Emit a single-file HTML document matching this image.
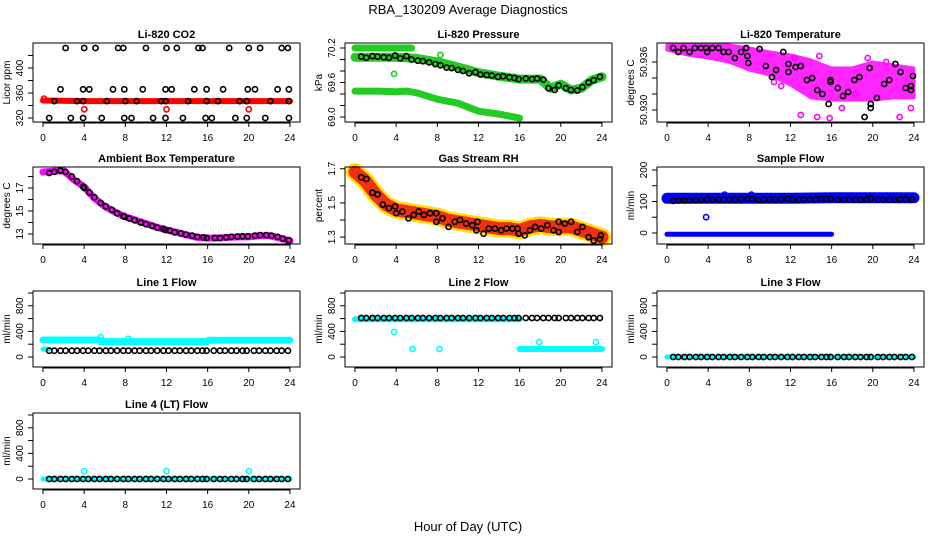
<!DOCTYPE html>
<html><head><meta charset="utf-8"><title>RBA_130209 Average Diagnostics</title>
<style>
html,body{margin:0;padding:0;background:#fff;}
svg{display:block;font-family:"Liberation Sans",Arial,sans-serif;}
</style></head>
<body>
<svg id="chart" width="936" height="540" viewBox="0 0 936 540" xmlns="http://www.w3.org/2000/svg">
<rect x="0" y="0" width="936" height="540" fill="#fff"/>
<text x="468" y="14" text-anchor="middle" font-size="13">RBA_130209  Average Diagnostics</text>
<text x="468" y="531" text-anchor="middle" font-size="13">Hour of Day (UTC)</text>
</svg>
<script>
// ---------- data ----------
const X_TICKS = [0, 4, 8, 12, 16, 20, 24];

// Li-820 CO2
const co2BlackHours = [2.2,4,5.1,7.3,7.8,10,12,13,15.1,15.5,18.1,20,21.1,23.2,23.8, 1.7,3.9,4.5,6.8,7.9,9.7,11.9,12.5,14.7,15.9,17.5,19.9,20.6,22.8,23.9, 1.1,3.3,3.9,6.2,8,9.1,11.5,11.9,14.1,15.9,17,19.1,19.8,22.1,23.9, 0.6,2.7,3.9,5.7,7.9,8.6,10.7,11.9,13.6,15.8,16.4,18.7,19.8,21.6,23.9];
const co2BlackValues = [432,432,432,432,432,432,432,432,432,432,432,432,432,432,432, 366,366,366,366,366,366,366,366,366,366,366,366,366,366,366, 347,347,347,347,347,347,347,347,347,347,347,347,347,347,347, 320,320,320,320,320,320,320,320,320,320,320,320,320,320,320];
const co2BandHours = [0,4,8,12,16,20,24];
const co2BandValues = [348,347,347,347,347,347,347];
const co2RedHours = [0.1,4,12,20];
const co2RedValues = [351,334,334,334];

// Li-820 Pressure
const presBandHours = [0,2,4,6,8,10,12,14,16,18,19,20,21,22,23,24];
const presBandValues = [70.04,70.04,70.04,70.02,69.96,69.87,69.77,69.71,69.66,69.66,69.5,69.57,69.47,69.5,69.64,69.7];
const presTopHours = [0,5.5];
const presTopValues = [70.2,70.2];
const presLowHours = [0,2,4,5,6,8,10,12,14,16];
const presLowValues = [69.45,69.45,69.44,69.45,69.42,69.31,69.24,69.1,69.05,68.98];
const presGreenHours = [3.8,8.3];
const presGreenValues = [69.75,70.08];
const presBlackHours = [0.6,1.1,1.7,2.2,2.8,3.3,3.9,4.4,5,5.5,6.1,6.6,7.2,7.8,8.3,8.9,9.4,10,10.5,11.1,11.7,12.2,12.8,13.3,13.9,14.4,15,15.5,15.9,16.6,17.2,17.7,18.3,18.8,19.4,19.8,20.5,21,21.6,22.1,22.7,23.2,23.8];
const presBlackValues = [70.05,70.03,70.06,70.05,70.04,70.03,70.07,70.02,70.06,70.0,69.98,69.97,69.95,69.92,69.9,69.86,69.85,69.82,69.8,69.76,69.78,69.74,69.73,69.72,69.7,69.71,69.69,69.68,69.66,69.67,69.66,69.67,69.65,69.5,69.47,69.55,69.5,69.47,69.46,69.52,69.6,69.64,69.7];

// Li-820 Temperature
const ltHours = [0,2,4,6,8,10,12,14,16,18,20,22,24];
const ltUpper = [50.93813,50.93813,50.93813,50.93813,50.93775,50.93725,50.93688,50.93625,50.93525,50.93525,50.936,50.93563,50.93525];
const ltLower = [50.9375,50.93688,50.9365,50.936,50.935,50.93438,50.93313,50.9315,50.93125,50.93125,50.93125,50.9315,50.9315];
const ltMagHours = [13,14.6,15.8,22.6,17,23.7,11.1,14.8,19.5,21.3,10.4,12.4,18.3];
const ltMagValues = [50.92938,50.92913,50.929,50.92913,50.93025,50.93025,50.933,50.93675,50.9365,50.936,50.9335,50.9365,50.932];
const ltBlackHours = [0.6,1.1,1.6,2.2,2.7,3.3,3.8,3.9,4.4,5,5.5,6,6.6,7.2,7.7,7.8,7.9,9,9.6,10.2,10.6,11.3,11.8,11.8,12.5,13,13.6,14.1,14.6,15.1,15.7,15.9,15.9,16.6,17.1,17.6,18.2,18.7,19.2,19.7,19.8,19.8,20.4,21.1,21.6,22.2,22.7,23.2,23.7,23.7,23.9];
const ltBlackValues = [50.93775,50.93725,50.93775,50.93725,50.93775,50.93775,50.93775,50.93725,50.93775,50.93775,50.93725,50.93725,50.9365,50.93725,50.93775,50.93675,50.93588,50.93763,50.9355,50.93413,50.935,50.93725,50.93575,50.93475,50.93538,50.9355,50.93375,50.934,50.9325,50.932,50.93075,50.93375,50.9335,50.93275,50.93175,50.93225,50.93375,50.93413,50.92913,50.93525,50.93075,50.93025,50.9315,50.93325,50.93375,50.93575,50.93475,50.93275,50.933,50.9325,50.93425];

// Ambient Box Temperature
const ambHours = [0,1,2,3,4,5,6,7,8,9,10,11,12,13,14,15,16,17,18,19,20,21,22,23,24];
const ambBand = [18.39,18.45,18.5,17.7,17.1,16.1,15.4,14.9,14.5,14.2,13.9,13.6,13.35,13.15,12.9,12.7,12.65,12.65,12.7,12.75,12.75,12.85,12.85,12.65,12.4];
const ambBlackHours = [0.6,1.1,1.7,2.2,2.8,3.3,3.9,4.0,4.5,5.0,5.6,6.1,6.7,7.2,7.8,7.9,8.4,8.9,9.5,10,10.6,11.1,11.7,11.9,12.3,12.8,13.4,13.9,14.5,15,15.6,15.9,16.7,17.2,17.8,18.3,18.9,19.4,19.9,20.6,21.1,21.7,22.2,22.8,23.3,23.9];
const ambBlackValues = [18.3,18.4,18.5,18.4,18.0,17.6,17.1,17.0,16.6,16.2,15.7,15.4,15.1,14.8,14.55,14.5,14.35,14.2,14.0,13.85,13.7,13.55,13.45,13.35,13.3,13.15,13.05,12.95,12.85,12.75,12.7,12.65,12.65,12.65,12.7,12.75,12.78,12.8,12.8,12.85,12.9,12.9,12.85,12.75,12.6,12.45];

// Gas Stream RH
const rhHours = [0,1,2,3,4,5,6,7,8,9,10,11,12,13,14,15,16,17,18,19,20,21,22,23,24];
const rhBand = [1.68,1.63,1.55,1.49,1.46,1.45,1.44,1.43,1.42,1.40,1.39,1.38,1.37,1.36,1.35,1.35,1.34,1.36,1.37,1.36,1.36,1.36,1.34,1.32,1.30];
const rhBlackHours = [0.6,1.1,1.7,2.2,2.7,3.3,3.9,4.0,4.6,5.2,5.7,6.2,6.7,7.3,7.9,7.9,8.5,9.1,9.7,10.2,10.8,11.4,11.9,11.8,12.5,13,13.6,14.2,14.7,15.3,15.8,15.9,16.5,17,17.5,18.1,18.7,19.3,19.8,19.8,20.4,21,21.6,22.1,22.7,23.2,23.8,23.9];
const rhBlackValues = [1.65,1.64,1.56,1.55,1.49,1.47,1.48,1.44,1.45,1.41,1.43,1.45,1.43,1.44,1.44,1.39,1.41,1.36,1.39,1.40,1.38,1.37,1.39,1.34,1.32,1.35,1.35,1.34,1.35,1.35,1.35,1.32,1.31,1.34,1.36,1.35,1.37,1.34,1.39,1.33,1.38,1.39,1.33,1.36,1.30,1.28,1.29,1.31];

// Sample Flow
const sfBandHours = [0,4,8,12,16,20,24];
const sfBandValues = [110,110,110,110,112,112,112];
const sfZeroHours = [0,16];
const sfZeroValues = [-4,-4];
const sfBlueHours = [3.8,5.6,8.2];
const sfBlueValues = [50,122,122];
const flowHours = [0.6,1.1,1.7,2.2,2.8,3.3,3.9,4.4,5,5.5,6.1,6.6,7.2,7.8,8.3,8.9,9.4,10,10.5,11.1,11.7,12.2,12.8,13.3,13.9,14.4,15,15.5,15.9,16.6,17.2,17.7,18.3,18.8,19.4,19.8,20.5,21,21.6,22.1,22.7,23.2,23.8];
const sfBlackValues = [102,103,103,104,104,105,107,105,106,106,106,106,107,108,108,105,106,106,106,107,109,106,106,107,107,107,108,108,108,106,106,106,106,106,107,109,106,106,106,106,107,107,107];

// Line 1 Flow
const l1CyanHours = [0,5.5,5.6,16,16.1,24];
const l1CyanValues = [265,265,240,240,262,262];
const l1CyanLowHours = [0,0.5];
const l1CyanLowValues = [120,120];
const l1OutHours = [5.6,8.3];
const l1OutValues = [310,285];
const l1BlackValues = [98,98,98,98,98,98,98,98,98,98,98,98,98,98,98,98,98,98,98,98,98,98,98,98,98,98,98,98,98,98,98,98,98,98,98,98,98,98,98,98,98,98,98];

// Line 2 Flow
const l2CyanHours = [0,16];
const l2CyanValues = [590,590];
const l2CyanLowHours = [16,24];
const l2CyanLowValues = [125,125];
const l2OutHours = [3.8,5.6,8.2,17.9,23.4];
const l2OutValues = [390,125,125,235,235];
const l2BlackValues = [610,610,610,610,610,610,610,610,610,610,610,610,610,610,610,610,610,610,610,610,610,610,610,610,610,610,610,610,610,610,610,610,610,610,610,610,610,610,610,610,610,610,610];

// Line 3 Flow
const l3CyanHours = [0,24];
const l3CyanValues = [0,0];
const l3BlackValues = [0,0,0,0,0,0,0,0,0,0,0,0,0,0,0,0,0,0,0,0,0,0,0,0,0,0,0,0,0,0,0,0,0,0,0,0,0,0,0,0,0,0,0];

// Line 4 (LT) Flow
const l4CyanHours = [0,24];
const l4CyanValues = [0,0];
const l4OutHours = [4,12,20];
const l4OutValues = [123,123,123];
const l4BlackValues = [0,0,0,0,0,0,0,0,0,0,0,0,0,0,0,0,0,0,0,0,0,0,0,0,0,0,0,0,0,0,0,0,0,0,0,0,0,0,0,0,0,0,0];

// tick definitions
const co2Ticks = [320,340,360,380,400,420]; const co2Labels = ["320","360","400"];
const presTicks = [69.0,69.2,69.4,69.6,69.8,70.0,70.2]; const presLabels = ["69.0","69.6","70.2"];
const ltTicks = [50.930,50.932,50.934,50.936]; const ltLabels = ["50.930","50.936"];
const ambTicks = [13,14,15,16,17,18]; const ambLabels = ["13","15","17"];
const rhTicks = [1.3,1.4,1.5,1.6,1.7]; const rhLabels = ["1.3","1.5","1.7"];
const sfTicks = [0,50,100,150,200]; const sfLabels = ["0","100","200"];
const lfTicks = [0,200,400,600,800,1000]; const lfLabels = ["0","400","800"];

// ---------- rendering ----------
const NS = "http://www.w3.org/2000/svg";
const svg = document.getElementById("chart");
const COLS = [33, 345, 657];
const ROWS = [[43,122],[167,244],[291,367],[413,489]];
const BOXW = 267;

function el(tag, attrs, parent) {
  const e = document.createElementNS(NS, tag);
  for (const k in attrs) e.setAttribute(k, attrs[k]);
  (parent || svg).appendChild(e);
  return e;
}

function makePanel(name, col, row, title, ylab, ylo, yhi, ticks, labels) {
  const left = COLS[col], top = ROWS[row][0], bottom = ROWS[row][1], right = left + BOXW;
  const g = el("g", {});
  
  
  const xs = h => left + 10 + h * 10.29;
  const ys = v => bottom - (v - ylo) / (yhi - ylo) * (bottom - top);
  const marks = el("g", {}, g);
  
  
  const box = el("rect", {x: left, y: top, width: BOXW, height: bottom - top, fill: "none", stroke: "#000", "stroke-width": 1}, g);
  
  
  const t = el("text", {x: (left + right) / 2, y: top - 5, "text-anchor": "middle", "font-size": 11, "font-weight": "bold"}, g);
  t.textContent = title;
  
  
  const yl = el("text", {transform: `translate(${left - 23},${(top + bottom) / 2}) rotate(-90)`, "text-anchor": "middle", "font-size": 10}, g);
  yl.textContent = ylab;
  
  
  const xa = el("g", {}, g);
  
  
  el("line", {x1: xs(X_TICKS[0]), x2: xs(X_TICKS[X_TICKS.length - 1]), y1: bottom + 1, y2: bottom + 1, stroke: "#000"}, xa);
  X_TICKS.forEach(h => {
    el("line", {x1: xs(h), x2: xs(h), y1: bottom, y2: bottom + 5, stroke: "#000"}, xa);
    const lt = el("text", {x: xs(h), y: bottom + 19, "text-anchor": "middle", "font-size": 10}, xa);
    lt.textContent = String(h);
    
    
  });
  const ya = el("g", {}, g);
  
  
  const t0 = Math.min(ys(ticks[0]), bottom), t1 = Math.max(ys(ticks[ticks.length - 1]), top);
  el("line", {x1: left, x2: left, y1: t0, y2: t1, stroke: "#000"}, ya);
  ticks.forEach(v => {
    el("line", {x1: left - 5, x2: left, y1: ys(v), y2: ys(v), stroke: "#000"}, ya);
  });
  labels.forEach(s => {
    const lt = el("text", {transform: `translate(${left - 10},${ys(parseFloat(s))}) rotate(-90)`, "text-anchor": "middle", "font-size": 10}, ya);
    lt.textContent = s;
    
    
  });
  return {xs, ys, marks, name};
}

function band(p, hours, values, color, width, label) {
  const n = Math.min(hours.length, values.length);
  const pts = [];
  for (let i = 0; i < n; i++) pts.push(p.xs(hours[i]).toFixed(1) + "," + p.ys(values[i]).toFixed(1));
  const e = el("polyline", {points: pts.join(" "), fill: "none", stroke: color, "stroke-width": width, "stroke-linejoin": "round", "stroke-linecap": "round"}, p.marks);
  
  
  return e;
}

function area(p, hours, upper, lower, color, label) {
  const n = Math.min(hours.length, upper.length, lower.length);
  const pts = [];
  for (let i = 0; i < n; i++) pts.push(p.xs(hours[i]).toFixed(1) + "," + p.ys(upper[i]).toFixed(1));
  for (let i = n - 1; i >= 0; i--) pts.push(p.xs(hours[i]).toFixed(1) + "," + p.ys(lower[i]).toFixed(1));
  const e = el("polygon", {points: pts.join(" "), fill: color, stroke: color, "stroke-width": 3, "stroke-linejoin": "round", opacity: 0.85}, p.marks);
  
  
}

function points(p, hours, values, color, label) {
  const n = Math.min(hours.length, values.length);
  for (let i = 0; i < n; i++) {
    const c = el("circle", {cx: p.xs(hours[i]).toFixed(1), cy: p.ys(values[i]).toFixed(1), r: 2.6, fill: "none", stroke: color, "stroke-width": 1.6}, p.marks);
    
    
  }
}

const BLACK = "#000", RED = "#ff0000", GREEN = "#22cc22", MAG = "#ff00ff", BLUE = "#0000ff", CYAN = "#00ffff";

let p = makePanel("co2", 0, 0, "Li-820 CO2", "Licor ppm", 313.6, 440, co2Ticks, co2Labels);
band(p, co2BandHours, co2BandValues, RED, 6, "band");
points(p, co2RedHours, co2RedValues, RED, "red-point");
points(p, co2BlackHours, co2BlackValues, BLACK, "point");

p = makePanel("pressure", 1, 0, "Li-820 Pressure", "kPa", 68.913, 70.287, presTicks, presLabels);
band(p, presTopHours, presTopValues, GREEN, 7, "upper-band");
band(p, presBandHours, presBandValues, GREEN, 9, "main-band");
band(p, presLowHours, presLowValues, GREEN, 7, "lower-band");
points(p, presGreenHours, presGreenValues, GREEN, "green-point");
points(p, presBlackHours, presBlackValues, BLACK, "point");

p = makePanel("li-temperature", 2, 0, "Li-820 Temperature", "degrees C", 50.9285, 50.938375, ltTicks, ltLabels);
area(p, ltHours, ltUpper, ltLower, MAG, "band");
points(p, ltMagHours, ltMagValues, MAG, "magenta-point");
points(p, ltBlackHours, ltBlackValues, BLACK, "point");

p = makePanel("ambient-temperature", 0, 1, "Ambient Box Temperature", "degrees C", 12.13, 18.826, ambTicks, ambLabels);
band(p, ambHours, ambBand, MAG, 7, "band");
points(p, ambBlackHours, ambBlackValues, BLACK, "point");

p = makePanel("gas-rh", 1, 1, "Gas Stream RH", "percent", 1.26, 1.71, rhTicks, rhLabels);
band(p, rhHours, rhBand, "#ffe000", 18, "band");
band(p, rhHours, rhBand, "#f03010", 13, "band-core").setAttribute("stroke-dasharray", "1.5,2");
points(p, rhBlackHours, rhBlackValues, BLACK, "point");

p = makePanel("sample-flow", 2, 1, "Sample Flow", "ml/min", -35, 209.5, sfTicks, sfLabels);
band(p, sfBandHours, sfBandValues, BLUE, 11, "band");
band(p, sfZeroHours, sfZeroValues, BLUE, 5, "zero-band");
points(p, sfBlueHours, sfBlueValues, BLUE, "blue-point");
points(p, flowHours, sfBlackValues, BLACK, "point");

p = makePanel("line1-flow", 0, 2, "Line 1 Flow", "ml/min", -156, 1031, lfTicks, lfLabels);
band(p, l1CyanHours, l1CyanValues, CYAN, 7, "band");
band(p, l1CyanLowHours, l1CyanLowValues, CYAN, 5, "low-band");
points(p, l1OutHours, l1OutValues, CYAN, "cyan-point");
points(p, flowHours, l1BlackValues, BLACK, "point");

p = makePanel("line2-flow", 1, 2, "Line 2 Flow", "ml/min", -156, 1031, lfTicks, lfLabels);
band(p, l2CyanHours, l2CyanValues, CYAN, 6, "band");
band(p, l2CyanLowHours, l2CyanLowValues, CYAN, 6, "low-band");
points(p, l2OutHours, l2OutValues, CYAN, "cyan-point");
points(p, flowHours, l2BlackValues, BLACK, "point");

p = makePanel("line3-flow", 2, 2, "Line 3 Flow", "ml/min", -156, 1031, lfTicks, lfLabels);
band(p, l3CyanHours, l3CyanValues, CYAN, 5, "band");
points(p, flowHours, l3BlackValues, BLACK, "point");

p = makePanel("line4-flow", 0, 3, "Line 4 (LT) Flow", "ml/min", -156, 1031, lfTicks, lfLabels);
band(p, l4CyanHours, l4CyanValues, CYAN, 5, "band");
points(p, l4OutHours, l4OutValues, CYAN, "cyan-point");
points(p, flowHours, l4BlackValues, BLACK, "point");
</script>
</body></html>
